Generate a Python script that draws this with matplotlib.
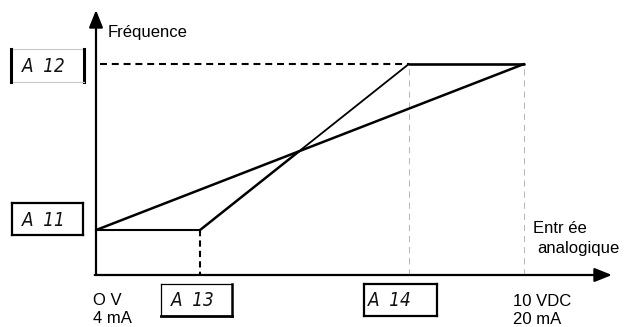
import matplotlib
matplotlib.use('Agg')
import matplotlib.pyplot as plt
from matplotlib import font_manager

# ---------------- data ----------------
v_start = 0.0      # 0 V / 4 mA
v_a13 = 2.43       # input start point (A13)
v_a14 = 7.31       # input end point (A14)
v_end = 10.0       # 10 VDC / 20 mA
freq_a11 = 21.3    # start frequency (A11), % of A12
freq_a12 = 100.0   # end frequency (A12)

param_labels = ["A  12", "A  11", "A  13", "A  14"]
y_title = "Fréquence"
x_title = ["Entr ée", "analogique"]
start_labels = ["O V", "4 mA"]
end_labels = ["10 VDC", "20 mA"]

# ---------------- layout ----------------
W, H = 634, 327
X0, Y0 = 96, 275          # pixel position of origin
PXV, PXF = 42.8, 2.11     # pixels per volt, pixels per % freq

names = {f.name for f in font_manager.fontManager.ttflist}
narrow = 'Liberation Sans Narrow' if 'Liberation Sans Narrow' in names else 'DejaVu Sans'
label_font = 'Liberation Sans' if 'Liberation Sans' in names else 'DejaVu Sans'
plt.rcParams['lines.scale_dashes'] = False

fig = plt.figure(figsize=(W / 100, H / 100), dpi=100)
ax = fig.add_axes([0, 0, 1, 1])
ax.set_xlim(-X0 / PXV, (W - X0) / PXV)
ax.set_ylim(-(H - Y0) / PXF, Y0 / PXF)
ax.axis('off')


def P(x, y):
    """pixel -> data (for layout elements)"""
    return (x - X0) / PXV, (Y0 - y) / PXF


def seg(p, q, **kw):
    a, b = P(*p), P(*q)
    ax.plot([a[0], b[0]], [a[1], b[1]], solid_capstyle='projecting', **kw)


# axes with arrows
arrow = dict(arrowstyle='-|>,head_length=0.75,head_width=0.3', lw=1.6,
             color='black', mutation_scale=14, shrinkA=0, shrinkB=0)
ax.annotate('', xy=P(X0, 10), xytext=(v_start, 0), arrowprops=arrow)
ax.annotate('', xy=P(612, Y0), xytext=(v_start - 0.03, 0), arrowprops=arrow)

# grey dashed guides
for v in (v_a14, v_end):
    ax.plot([v, v], [0, freq_a12], color='#b5b5b5', lw=0.7,
            dashes=(4.5, 3.5), zorder=1)

# dashed reference lines
ax.plot([v_start + 4 / PXV, v_a14], [freq_a12, freq_a12], color='black',
        lw=1.5, dashes=(5, 3.5), zorder=2)
ax.plot([v_a13, v_a13], [freq_a11, 0], color='black', lw=1.5,
        dashes=(4.5, 3), zorder=2)

# linear characteristic (0 V -> 10 V)
ax.plot([v_start, v_end], [freq_a11, freq_a12], color='black', lw=1.8,
        solid_capstyle='round', zorder=3)

# characteristic with A13/A14
s1 = (freq_a12 - freq_a11) / (v_end - v_start)
s2 = (freq_a12 - freq_a11) / (v_a14 - v_a13)
xc = (freq_a11 - s1 * v_start - freq_a11 + s2 * v_a13) / (s2 - s1)
yc = freq_a11 + s1 * (xc - v_start)
ax.plot([v_start, v_a13], [freq_a11, freq_a11], color='black', lw=1.5,
        solid_capstyle='round', zorder=3)
ax.plot([v_a13, xc], [freq_a11, yc], color='black', lw=1.8,
        solid_capstyle='round', zorder=3)
ax.plot([xc, v_a14], [yc, freq_a12], color='black', lw=1.3,
        solid_capstyle='round', zorder=3)
ax.plot([v_a14, v_end], [freq_a12, freq_a12], color='black', lw=1.9,
        solid_capstyle='round', zorder=3)


# parameter boxes
def box(x0, y0, x1, y1, label, tx, widths, colors):
    # widths/colors: top, right, bottom, left
    t, r, b, l = widths
    ct, cr, cb, cl = colors
    seg((x0, y0), (x1, y0), lw=t, color=ct)
    seg((x1, y0), (x1, y1), lw=r, color=cr)
    seg((x0, y1), (x1, y1), lw=b, color=cb)
    seg((x0, y0), (x0, y1), lw=l, color=cl)
    ax.text(*P(tx, (y0 + y1) / 2 + 1), label, fontsize=13.5, style='italic',
            family=narrow, fontstretch='condensed', ha='left', va='center',
            color='#111111')


yA12 = Y0 - freq_a12 * PXF
yA11 = Y0 - freq_a11 * PXF
xA13 = X0 + v_a13 * PXV
xA14 = X0 + v_a14 * PXV
box(11, yA12 - 15, 84, yA12 + 18, param_labels[0], 22,
    (0.8, 2.2, 0.8, 2.2), ('#c8c8c8', 'black', '#c8c8c8', 'black'))
box(12, yA11 - 27, 83, yA11 + 5, param_labels[1], 22,
    (1.6,) * 4, ('black',) * 4)
box(xA13 - 39, 284, xA13 + 32, 316, param_labels[2], xA13 - 29,
    (0.9, 1.8, 2.0, 0.9), ('black',) * 4)
box(xA14 - 45, 284, xA14 + 28, 316, param_labels[3], xA14 - 41,
    (1.6,) * 4, ('black',) * 4)

# texts
tk = dict(fontsize=12, family=label_font, color='black', ha='left',
          va='baseline')
ax.text(*P(108, 37), y_title, **tk)
ax.text(*P(533, 233), x_title[0], **tk)
ax.text(*P(537, 253), x_title[1], **tk)
ax.text(*P(93, 305), start_labels[0], **tk)
ax.text(*P(93, 323), start_labels[1], **tk)
ax.text(*P(513, 306), end_labels[0], **tk)
ax.text(*P(513, 324), end_labels[1], **tk)

fig.savefig('out.png', dpi=100, facecolor='white')
